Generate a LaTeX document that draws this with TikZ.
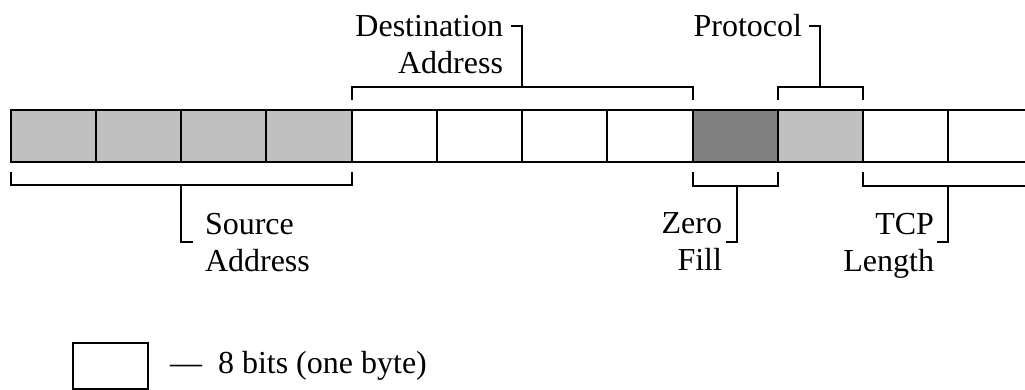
\documentclass[tikz,border=0pt]{standalone}
\usepackage{fontspec}
\setmainfont{Liberation Serif}
\usetikzlibrary{calc}
\definecolor{lg}{HTML}{C0C0C0}
\definecolor{dg}{HTML}{808080}
\tikzset{
  byte/.style={draw=black, line width=2pt, minimum width=85.25pt, minimum height=52pt, inner sep=0pt, outer sep=0pt, anchor=north west},
  legbox/.style={draw=black, line width=2pt, minimum width=75pt, minimum height=46pt, inner sep=0pt, outer sep=0pt, anchor=north west},
  lbl/.style={font=\fontsize{32}{37}\selectfont, inner sep=0pt, outer sep=0pt},
  brk/.style={draw=black, line width=2pt}
}
\begin{document}
\begin{tikzpicture}[x=1pt,y=-1pt]
\useasboundingbox (0,0) rectangle (1025,390);
\clip (0,0) rectangle (1025,390);
\fill[white] (0,0) rectangle (1025,390);
% bytes
\foreach \i/\c in {1/lg,2/lg,3/lg,4/lg,5/white,6/white,7/white,8/white,9/dg,10/lg,11/white,12/white}
  \node[byte, fill=\c] (b\i) at ({10.5+(\i-1)*85.25},110) {};
% source address bracket
\draw[brk] ($(b1.south west)+(0.5,10)$) |- ($(b4.south east)+(0,23)$) -- ($(b4.south east)+(0,10)$);
\draw[brk] ($(b2.south east)+(0,23)$) -- ++(0,57) -- ++(12,0);
% destination address bracket
\draw[brk] ($(b5.north west)+(0,-10)$) |- ($(b8.north east)+(0,-23)$) -- ($(b8.north east)+(0,-10)$);
\draw[brk] ($(b6.north east)+(0,-23)$) -- ++(0,-61) -- ++(-11,0);
% protocol bracket
\draw[brk] ($(b10.north west)+(0,-10)$) |- ($(b10.north east)+(0,-23)$) -- ($(b10.north east)+(0,-10)$);
\draw[brk] ($(b10.north)+(0,-23)$) -- ++(0,-61) -- ++(-11,0);
% zero fill bracket
\draw[brk] ($(b9.south west)+(0,10)$) |- ($(b9.south east)+(0,24)$) -- ($(b9.south east)+(0,10)$);
\draw[brk] ($(b9.south)+(1.5,24)$) -- ++(0,56) -- ++(-11,0);
% tcp length bracket
\draw[brk] ($(b11.south west)+(0,10)$) |- ($(b12.south east)+(0,24)$) -- ($(b12.south east)+(0,10)$);
\draw[brk] ($(b11.south east)+(0,24)$) -- ++(0,56) -- ++(-11,0);
% labels
\node[lbl, align=right, anchor=north east] (dst) at (503,15) {Destination\\Address};
\node[lbl, anchor=base east] (pro) at (802,37) {Protocol};
\node[lbl, align=left, anchor=north west] (src) at (205,213) {Source\\Address};
\node[lbl, align=right, anchor=north east] (zf) at (722,213) {Zero\\Fill};
\node[lbl, align=right, anchor=north east] (tcp) at (934,213) {TCP\\Length};
% legend
\node[legbox] (leg) at (73,343) {};
\node[lbl, anchor=base west] (legt) at (170,373) {—\hspace{16pt}8 bits (one byte)};
\end{tikzpicture}
\end{document}
